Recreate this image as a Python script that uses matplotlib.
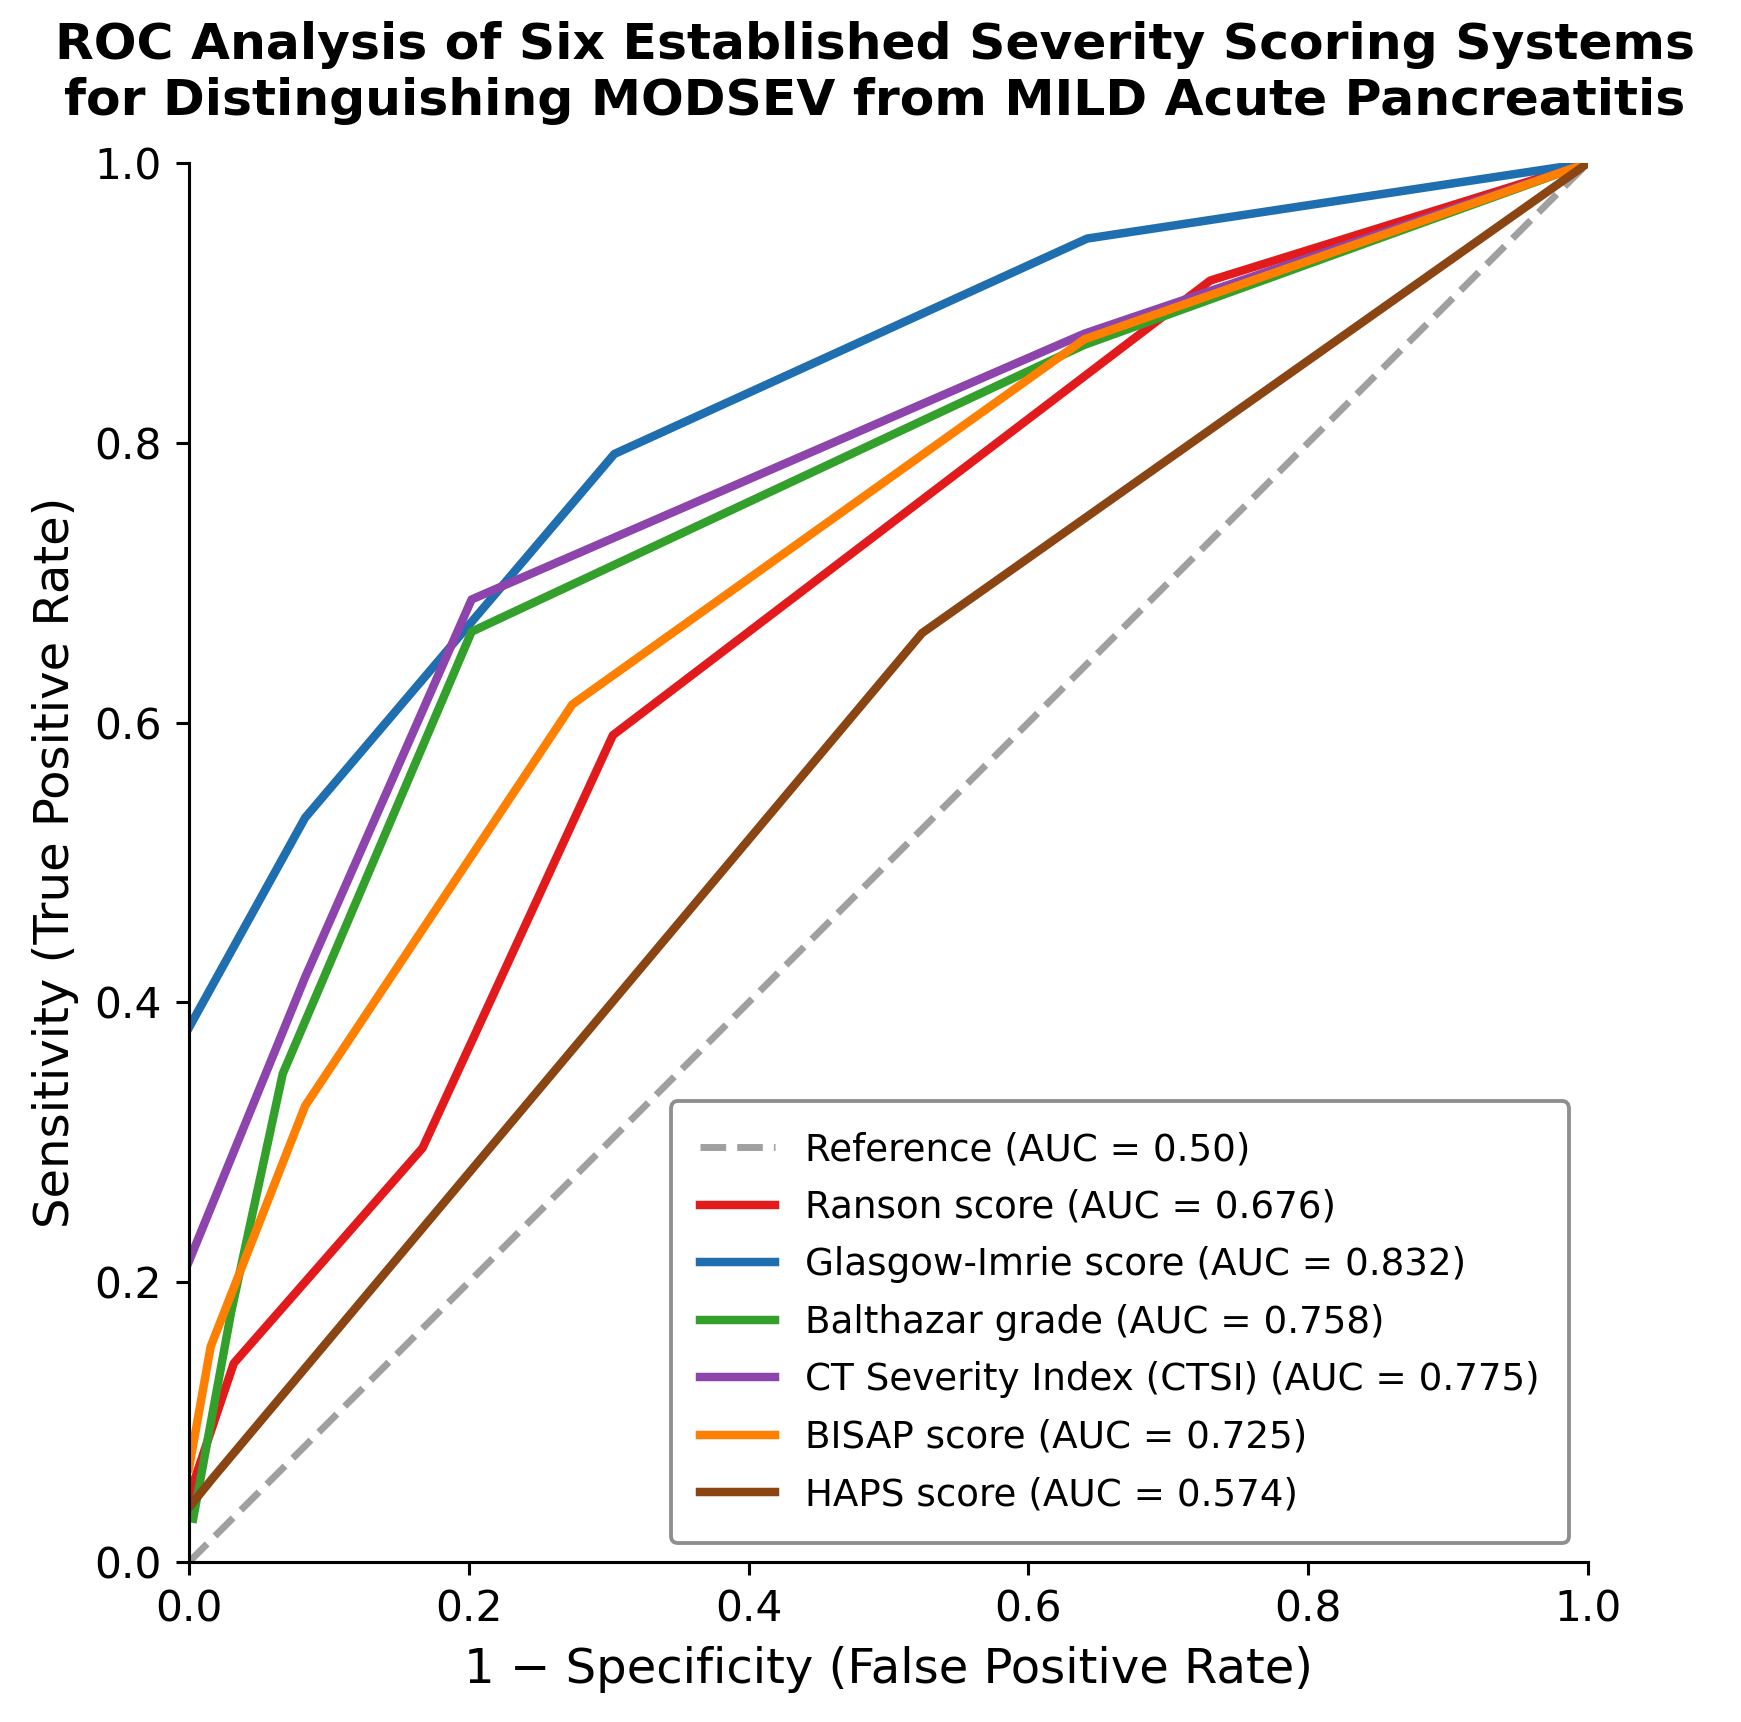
import numpy as np
import matplotlib
matplotlib.use("Agg")
import matplotlib.pyplot as plt

# ROC points (FPR, TPR)
ranson_fpr = [0.0, 0.032, 0.167, 0.303, 0.730, 1.0]
ranson_tpr = [0.047, 0.142, 0.296, 0.591, 0.916, 1.0]

glasgow_fpr = [0.0, 0.083, 0.304, 0.642, 1.0]
glasgow_tpr = [0.382, 0.532, 0.792, 0.946, 1.0]

balthazar_fpr = [0.003, 0.030, 0.067, 0.202, 0.640, 1.0]
balthazar_tpr = [0.031, 0.178, 0.349, 0.665, 0.870, 1.0]

ctsi_fpr = [0.0, 0.083, 0.202, 0.640, 1.0]
ctsi_tpr = [0.215, 0.418, 0.688, 0.878, 1.0]

bisap_fpr = [0.0, 0.0155, 0.083, 0.274, 0.640, 1.0]
bisap_tpr = [0.067, 0.154, 0.326, 0.613, 0.874, 1.0]

haps_fpr = [0.0, 0.017, 0.524, 1.0]
haps_tpr = [0.039, 0.060, 0.664, 1.0]

labels = ["Ranson score", "Glasgow-Imrie score", "Balthazar grade",
          "CT Severity Index (CTSI)", "BISAP score", "HAPS score"]
aucs = [0.676, 0.832, 0.758, 0.775, 0.725, 0.574]
colors = ["#e31a1c", "#1f6fb0", "#33a02c", "#8e44ad", "#ff7f00", "#8b4513"]

curves = [(ranson_fpr, ranson_tpr), (glasgow_fpr, glasgow_tpr),
          (balthazar_fpr, balthazar_tpr), (ctsi_fpr, ctsi_tpr),
          (bisap_fpr, bisap_tpr), (haps_fpr, haps_tpr)]

dpi = 277
fig, ax = plt.subplots(figsize=(1741 / dpi, 1722 / dpi), dpi=dpi)
fig.subplots_adjust(left=189 / 1741, right=1588 / 1741,
                    bottom=1 - 1562 / 1722, top=1 - 163 / 1722)

ax.plot([0, 1], [0, 1], linestyle="--", color="#a0a0a0", lw=1.8,
        label="Reference (AUC = 0.50)")
for (fpr, tpr), lab, auc, col in zip(curves, labels, aucs, colors):
    ax.plot(fpr, tpr, color=col, lw=2.2, label=f"{lab} (AUC = {auc:.3f})")

ax.set_xlim(0, 1)
ax.set_ylim(0, 1)
ax.spines["top"].set_visible(False)
ax.spines["right"].set_visible(False)
ax.tick_params(labelsize=11)
ax.set_xlabel("1 \u2212 Specificity (False Positive Rate)", fontsize=12.5)
ax.set_ylabel("Sensitivity (True Positive Rate)", fontsize=12.5)
ax.set_title("ROC Analysis of Six Established Severity Scoring Systems\n"
             "for Distinguishing MODSEV from MILD Acute Pancreatitis",
             fontsize=13.1, fontweight="bold", pad=12.5, x=0.49)

leg = ax.legend(loc="lower right", fontsize=9.7, frameon=True,
                borderpad=0.8, labelspacing=0.55)
leg.get_frame().set_edgecolor("0.45")

fig.savefig("out.png", dpi=dpi)
